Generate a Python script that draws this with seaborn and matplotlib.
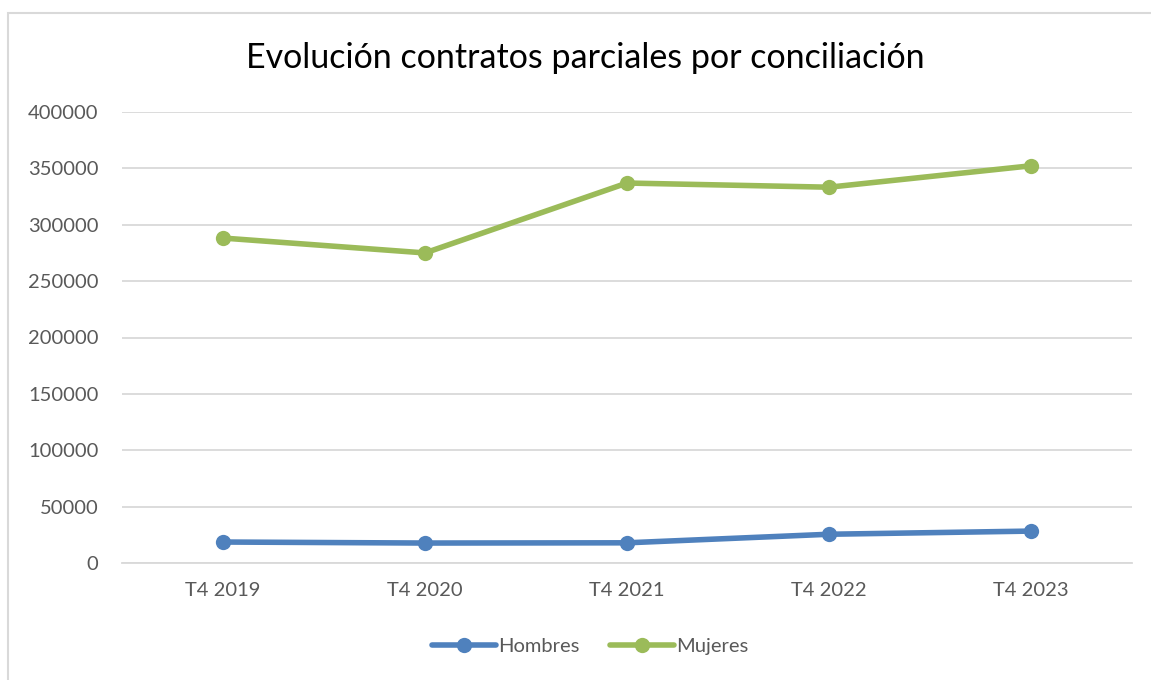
import pandas as pd
import seaborn as sns
import matplotlib.pyplot as plt
from matplotlib.patches import Rectangle

# Data
periodos = ["T4 2019", "T4 2020", "T4 2021", "T4 2022", "T4 2023"]
hombres = [18600, 17700, 17900, 25500, 28300]
mujeres = [288200, 275000, 337000, 333300, 352300]

df = pd.DataFrame({
    "periodo": periodos * 2,
    "valor": hombres + mujeres,
    "sexo": ["Hombres"] * len(periodos) + ["Mujeres"] * len(periodos),
})

sns.set_theme(style="white")
plt.rcParams['font.family'] = ['Lato', 'DejaVu Sans']

fig = plt.figure(figsize=(11.51, 6.8), dpi=100)
ax = fig.add_axes([122 / 1151, 117 / 680, 1010 / 1151, 451 / 680])

# outer chart border
fig.patches.append(Rectangle((8 / 1151, -0.01), 1.2, (680 - 13) / 680 + 0.01,
                             transform=fig.transFigure, fill=False,
                             edgecolor="#D9D9D9", linewidth=1.5))

colores = {"Hombres": "#4F81BD", "Mujeres": "#9BBB59"}
sns.lineplot(data=df, x="periodo", y="valor", hue="sexo", palette=colores,
             marker="o", markersize=11, markeredgewidth=0, linewidth=4,
             ax=ax, legend=False, sort=False)

ax.set_xlim(-0.5, len(periodos) - 0.5)
ax.set_ylim(0, 400000)
ax.set_yticks(range(0, 400001, 50000))
ax.set_yticklabels([str(v) for v in range(0, 400001, 50000)])
ax.grid(axis="y", color="#D9D9D9", linewidth=1.3)
ax.set_axisbelow(True)
for s in ["top", "right", "left"]:
    ax.spines[s].set_visible(False)
ax.spines["bottom"].set_color("#D9D9D9")
ax.spines["bottom"].set_linewidth(1.3)
ax.tick_params(axis="both", length=0, labelsize=14.5, labelcolor="#595959")
ax.tick_params(axis="x", pad=14)
ax.tick_params(axis="y", pad=17)
ax.set_xlabel("")
ax.set_ylabel("")

fig.text(585 / 1151, 1 - 58 / 680, "Evolución contratos parciales por conciliación",
         ha="center", va="center", fontsize=24.5, color="#000000")

handles = [plt.Line2D([], [], color=colores[k], marker="o", markersize=11,
                      linewidth=4, markeredgewidth=0) for k in colores]
fig.legend(handles, list(colores.keys()), loc="center", ncol=2,
           bbox_to_anchor=(590 / 1151, 1 - 646 / 680), frameon=False,
           fontsize=14.5, labelcolor="#595959", handlelength=3.2,
           handletextpad=0.1, columnspacing=1.5)

fig.savefig("out.png", dpi=100)
